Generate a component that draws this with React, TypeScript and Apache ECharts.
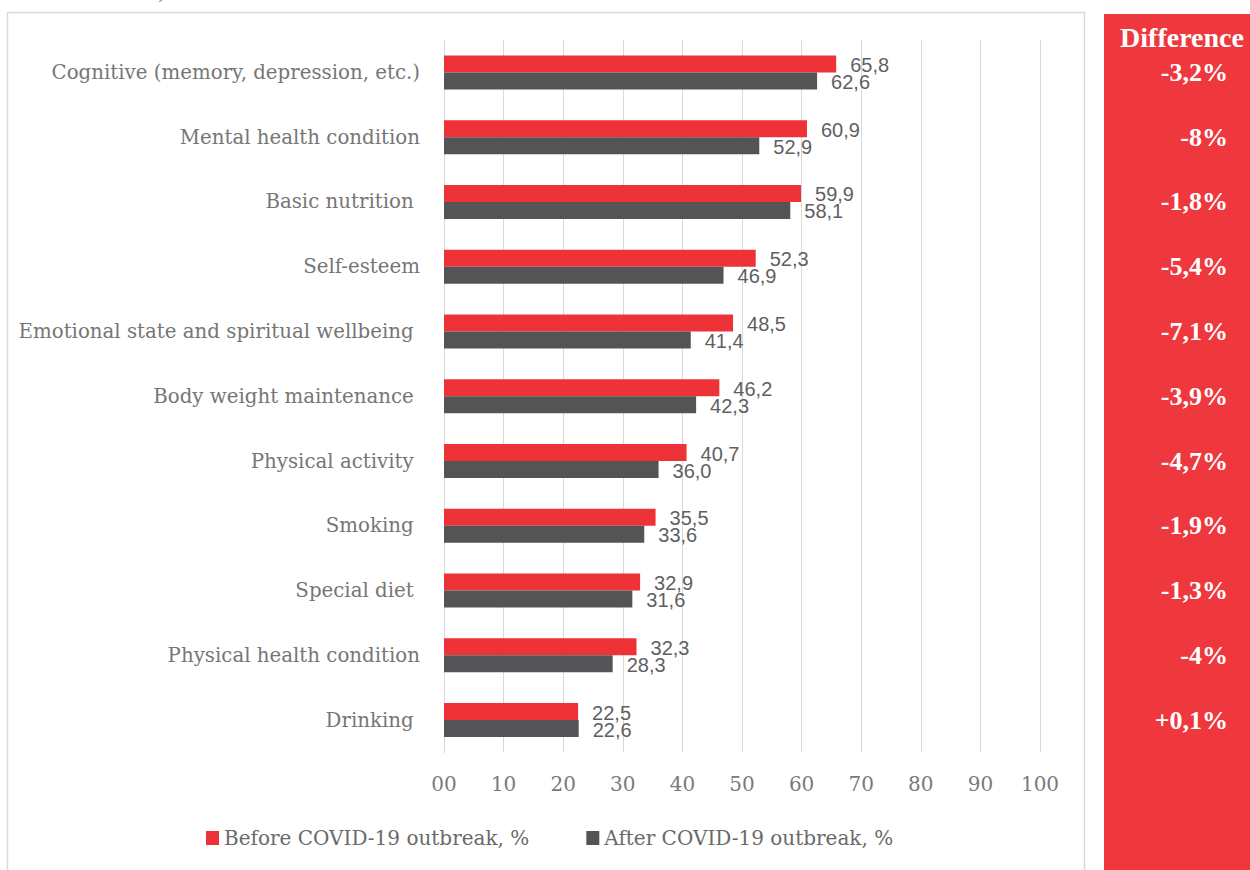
import React, { useEffect, useRef } from "react";
import * as echarts from "echarts";

const categories = [
  "Cognitive (memory, depression, etc.)",
  "Mental health condition",
  "Basic nutrition ",
  "Self-esteem",
  "Emotional state and spiritual wellbeing ",
  "Body weight maintenance ",
  "Physical activity ",
  "Smoking ",
  "Special diet ",
  "Physical health condition",
  "Drinking ",
];
const beforeValues = [65.8, 60.9, 59.9, 52.3, 48.5, 46.2, 40.7, 35.5, 32.9, 32.3, 22.5];
const afterValues = [62.6, 52.9, 58.1, 46.9, 41.4, 42.3, 36.0, 33.6, 31.6, 28.3, 22.6];
const differences = ["-3,2%", "-8%", "-1,8%", "-5,4%", "-7,1%", "-3,9%", "-4,7%", "-1,9%", "-1,3%", "-4%", "+0,1%"];
const seriesNames = ["Before COVID-19 outbreak, %", "After COVID-19 outbreak, %"];
const xMin = 0;
const xMax = 100;
const xInterval = 10;
const diffTitle = "Difference";
const cutCaption = "and outcomes)";

const RED = "#EE3338";
const GRAY = "#545456";
const PANEL = "#EE383D";
const SERIF = "'DejaVu Serif', serif";
const SANS = "'Liberation Sans', sans-serif";
const BSERIF = "'Liberation Serif', serif";

export default function App() {
  const ref = useRef<HTMLDivElement>(null);
  useEffect(() => {
    if (!ref.current) return;
    const chart = echarts.init(ref.current, null, { renderer: "svg" });
    const fmt = (p: any) => Number(p.value).toFixed(1).replace(".", ",");
    chart.setOption({
      animation: false,
      backgroundColor: "#ffffff",
      graphic: [
        {
          type: "text",
          z: 1,
          left: 18,
          top: -18,
          style: { text: cutCaption, font: "italic 20px " + SERIF, fill: "#7a7a7a" },
        },
        {
          type: "rect",
          z: 1,
          shape: { x: 7.5, y: 12.5, width: 1077, height: 880 },
          style: { fill: "none", stroke: "#d9d9d9", lineWidth: 1.5 },
        },
        {
          type: "rect",
          z: 1,
          shape: { x: 1104, y: 14, width: 146, height: 870 },
          style: { fill: PANEL },
        },
        {
          type: "text",
          z: 20,
          x: 1182,
          y: 37,
          style: {
            text: diffTitle,
            font: "bold 28px " + BSERIF,
            fill: "#ffffff",
            align: "center",
            verticalAlign: "middle",
          },
        },
      ],
      legend: {
        data: seriesNames,
        left: 201,
        top: 823,
        icon: "rect",
        itemWidth: 13,
        itemHeight: 14,
        itemGap: 57,
        textStyle: { fontFamily: SERIF, fontSize: 20, color: "#6a6a6a" },
      },
      grid: { left: 444, right: 210, top: 40, bottom: 117.5, containLabel: false },
      xAxis: {
        type: "value",
        min: xMin,
        max: xMax,
        interval: xInterval,
        axisLine: { show: false },
        axisTick: { show: false },
        splitLine: { show: true, lineStyle: { color: "#d9d9d9", width: 1 } },
        axisLabel: {
          margin: 21,
          fontFamily: SERIF,
          fontSize: 20,
          color: "#7a7a7a",
          formatter: (v: number) => (v === 0 ? "00" : String(v)),
        },
      },
      yAxis: [
        {
          type: "category",
          data: categories,
          inverse: true,
          axisLine: { show: true, lineStyle: { color: "#d9d9d9", width: 1 } },
          axisTick: { show: false },
          axisLabel: {
            margin: 24,
            fontFamily: SERIF,
            fontSize: 19.8,
            color: "#767676",
          },
        },
        {
          type: "category",
          data: differences,
          inverse: true,
          position: "right",
          z: 20,
          axisLine: { show: false },
          axisTick: { show: false },
          axisLabel: {
            margin: 188,
            align: "right",
            fontFamily: BSERIF,
            fontWeight: "bold",
            fontSize: 26,
            color: "#ffffff",
          },
        },
      ],
      series: [
        {
          name: seriesNames[0],
          type: "bar",
          yAxisIndex: 0,
          data: beforeValues,
          barWidth: 17,
          barGap: "0%",
          itemStyle: { color: RED },
          label: {
            show: true,
            position: "right",
            distance: 14,
            offset: [0, 1],
            fontFamily: SANS,
            fontSize: 20,
            color: "#5f5f5f",
            formatter: fmt,
          },
        },
        {
          name: seriesNames[1],
          type: "bar",
          yAxisIndex: 0,
          data: afterValues,
          barWidth: 17,
          barGap: "0%",
          itemStyle: { color: GRAY },
          label: {
            show: true,
            position: "right",
            distance: 14,
            offset: [0, 1],
            fontFamily: SANS,
            fontSize: 20,
            color: "#5f5f5f",
            formatter: fmt,
          },
        },
      ],
    });
    return () => chart.dispose();
  }, []);
  return (
    <div
      ref={ref}
      style={{ position: "absolute", left: 0, top: 0, width: 1250, height: 870 }}
    />
  );
}
